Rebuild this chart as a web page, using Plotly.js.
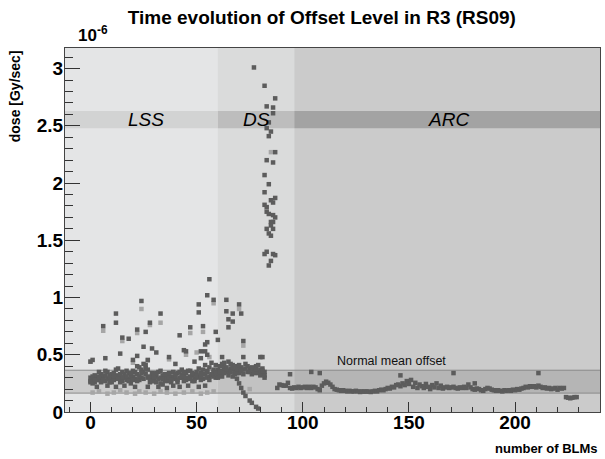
<!DOCTYPE html>
<html>
<head>
<meta charset="utf-8">
<script src="https://cdn.plot.ly/plotly-3.0.1.min.js"></script>
<style>html,body{margin:0;padding:0;background:#fff;}#chart{width:605px;height:459px;}</style>
</head>
<body>
<div id="chart"></div>
<script>
// dose values in units of 1e-6 Gy/sec
const snapshotA = [
0.27,0.29,0.26,0.31,0.28,0.33,0.30,0.27,0.35,0.32,
0.29,0.34,0.31,0.38,0.30,0.27,0.33,0.36,0.29,0.25,
0.31,0.35,0.40,0.28,0.37,0.42,0.33,0.30,0.26,0.34,
0.27,0.31,0.29,0.36,0.24,0.30,0.33,0.27,0.31,0.35,
0.29,0.34,0.30,0.37,0.32,0.28,0.36,0.31,0.27,0.33,
0.30,0.38,0.34,0.29,0.41,0.36,0.31,0.43,0.35,0.30,
0.37,0.33,0.42,0.39,0.35,0.44,0.38,0.41,0.36,0.40,
0.34,0.39,0.37,0.42,0.35,0.38,0.33,0.36,0.40,0.34,
0.37,0.33,0.35];
const snapshotB = [
0.30,0.25,0.32,0.28,0.35,0.27,0.31,0.36,0.29,0.26,
0.33,0.28,0.37,0.32,0.26,0.35,0.30,0.28,0.34,0.31,
0.36,0.29,0.33,0.39,0.30,0.35,0.41,0.37,0.31,0.28,
0.33,0.26,0.35,0.30,0.32,0.27,0.29,0.34,0.26,0.30,
0.33,0.28,0.35,0.30,0.27,0.34,0.29,0.36,0.32,0.29,
0.35,0.31,0.28,0.37,0.33,0.30,0.39,0.32,0.37,0.41,
0.33,0.40,0.36,0.43,0.39,0.36,0.42,0.38,0.34,0.37,
0.41,0.36,0.33,0.38,0.40,0.35,0.39,0.34,0.37,0.41,
0.35,0.38,0.32];
const snapshotC = [
0.26,0.31,0.28,0.22,0.30,0.26,0.28,0.32,0.23,0.30,
0.26,0.31,0.22,0.29,0.33,0.30,0.23,0.31,0.27,0.34,
0.28,0.22,0.27,0.31,0.34,0.29,0.38,0.22,0.30,0.27,
0.30,0.34,0.22,0.25,0.29,0.33,0.21,0.30,0.28,0.23,
0.31,0.26,0.22,0.32,0.35,0.30,0.23,0.29,0.34,0.27,
0.32,0.22,0.31,0.33,0.23,0.35,0.28,0.33,0.31,0.34,
0.30,0.35,0.31,0.34,0.37,0.32,0.35,0.31,0.33,0.29,
0.25,0.21,0.17,0.14,null,0.10,0.08,null,0.045,0.03,
0.32,0.36,0.30];

const outlierBLM = [1,0,7,14,20,22,25,27,29,31,37,40,44,45,49,52,52,54,54,55,
  6,12,12,15,18,22,24,26,28,33,42,47,51,51,53,55,55,56,58,59,
  60,62,64,64,65,65,67,67,70,71,72,72,80,81];
const outlierDose = [0.455,0.44,0.47,0.51,0.455,0.49,0.57,0.455,0.555,0.52,0.48,0.42,0.54,0.53,0.44,0.53,0.47,0.59,0.53,0.50,
  0.75,0.86,0.78,0.65,0.64,0.72,0.97,0.70,0.78,0.86,0.67,0.74,0.87,0.94,0.75,1.02,0.61,1.16,0.98,0.70,
  0.63,0.48,0.98,0.88,0.81,0.74,0.86,0.79,0.94,0.86,0.62,0.48,0.48,0.48];

const lightBLM = [1,4,8,11,14,17,21,23,26,30,33,36,40,44,48,52,55,58,
  6,15,22,24,28,33,47,53,58,70,72,
  0,2,20,27,37,45,50,56,63,66,69,75,85];
const lightDose = [0.17,0.18,0.16,0.17,0.19,0.17,0.16,0.18,0.17,0.16,0.18,0.17,0.16,0.17,0.18,0.16,0.17,0.18,
  0.71,0.62,0.69,0.90,0.76,0.78,0.69,0.70,0.95,0.90,0.58,
  0.44,0.30,0.43,0.45,0.46,0.50,0.52,0.48,0.38,0.34,0.33,0.20,2.27];

const spikeBLM = [77,82,87,86,83,86,84,83,85,84,87,83,86,82,84,82,87,85,86,82,83,83,84,86,87,85,86,85,86,83,84,85,83,82,86,87,85,84];
const spikeDose = [3.01,2.85,2.74,2.66,2.67,2.61,2.53,2.48,2.45,2.41,2.27,2.20,2.18,2.07,1.99,1.92,1.87,1.85,1.83,1.81,1.79,1.75,1.73,1.72,1.70,1.66,1.66,1.63,1.60,1.60,1.56,1.54,1.40,1.38,1.38,1.37,1.32,1.28];

const arcFirstBLM = 88;
const arcDose = [
0.21,0.24,0.235,0.23,0.23,0.255,0.21,0.205,0.215,0.21,
0.22,0.21,0.215,0.22,0.21,0.22,0.21,0.22,0.215,0.20,
0.19,0.23,0.25,0.265,0.255,0.24,0.22,0.20,0.195,0.19,
0.185,0.19,0.185,0.18,0.185,0.18,0.18,0.185,0.18,0.175,
0.18,0.178,0.18,0.178,0.175,0.18,0.185,0.18,0.19,0.195,
0.19,0.20,0.21,0.205,0.22,0.215,0.235,0.24,0.225,0.25,
0.235,0.27,0.245,0.28,0.22,0.255,0.21,0.24,0.225,0.21,
0.245,0.22,0.20,0.235,0.215,0.25,0.21,0.23,0.205,0.215,
0.22,0.21,0.215,0.22,0.21,0.205,0.215,0.21,0.22,0.21,
0.24,0.215,0.20,0.195,0.205,0.20,0.19,0.185,0.20,0.21,
0.205,0.195,0.19,0.185,0.19,0.185,0.18,0.19,0.185,0.19,
0.185,0.195,0.19,0.20,0.195,0.205,0.21,0.22,0.215,0.225,
0.22,0.225,0.215,0.23,0.22,0.21,0.215,0.205,0.21,0.20,
0.205,0.21,0.195,0.21,0.205,0.21,0.13,0.125,0.12,0.125,
0.13,0.13];
const arcOutBLM = [94,104,108,146,171,181,211];
const arcOutDose = [0.33,0.35,0.34,0.32,0.34,0.25,0.34];

const regionNames = ['LSS','DS','ARC'];
const regionEdges = [-12,60,96,240];
const regionLabelX = [26,78,168.5];
const topBand = [2.48,2.63];
const normalBand = [0.165,0.365];

const idx = snapshotA.map((_, i) => i);
const arcBLM = arcDose.map((_, i) => arcFirstBLM + i);

const dark = '#5c5c5c', light = '#a6a6a6';
const mk = (c) => ({symbol:'square', size:4.5, color:c, line:{width:0}});
const traces = [
  {x: lightBLM, y: lightDose, mode:'markers', type:'scatter', marker: mk(light)},
  {x: idx, y: snapshotA, mode:'markers', type:'scatter', marker: mk(dark)},
  {x: idx, y: snapshotB, mode:'markers', type:'scatter', marker: mk(dark)},
  {x: idx, y: snapshotC, mode:'markers', type:'scatter', marker: mk(dark)},
  {x: outlierBLM, y: outlierDose, mode:'markers', type:'scatter', marker: mk(dark)},
  {x: spikeBLM, y: spikeDose, mode:'markers', type:'scatter', marker: mk(dark)},
  {x: arcBLM, y: arcDose, mode:'markers', type:'scatter', marker: mk(dark)},
  {x: arcOutBLM, y: arcOutDose, mode:'markers', type:'scatter', marker: mk(dark)}
];

const regionFill = ['#e4e5e6','#dadbdb','#cbcbcb'];
const topFill = ['#d2d3d3','#bdbdbd','#a3a3a3'];
const normFill = ['#cbcbcb','#c2c2c2','#b5b5b5'];
const shapes = [];
for (let i = 0; i < 3; i++) {
  shapes.push({type:'rect', layer:'below', xref:'x', yref:'y', x0:regionEdges[i], x1:regionEdges[i+1], y0:0, y1:3.18, fillcolor:regionFill[i], line:{width:0}});
  shapes.push({type:'rect', layer:'below', xref:'x', yref:'y', x0:regionEdges[i], x1:regionEdges[i+1], y0:topBand[0], y1:topBand[1], fillcolor:topFill[i], line:{width:0}});
  shapes.push({type:'rect', layer:'below', xref:'x', yref:'y', x0:regionEdges[i], x1:regionEdges[i+1], y0:normalBand[0], y1:normalBand[1], fillcolor:normFill[i], line:{width:0}});
}
shapes.push({type:'line', layer:'below', xref:'x', yref:'y', x0:-12, x1:240, y0:normalBand[0], y1:normalBand[0], line:{color:'#8a8a8a', width:1}});
shapes.push({type:'line', layer:'below', xref:'x', yref:'y', x0:-12, x1:240, y0:normalBand[1], y1:normalBand[1], line:{color:'#8a8a8a', width:1}});

const F = 'Liberation Sans, Arial, Helvetica, sans-serif';
const annotations = regionNames.map((n, i) => ({
  x: regionLabelX[i], y: (topBand[0]+topBand[1])/2, xref:'x', yref:'y', text:n, showarrow:false,
  font:{family:F, size:19, style:'italic', color:'#000'}
}));
annotations.push({x:142, y:0.445, xref:'x', yref:'y', text:'Normal mean offset', showarrow:false, font:{family:F, size:12.5, color:'#111'}});
annotations.push({x:0.021, y:1.003, xref:'paper', yref:'paper', xanchor:'left', yanchor:'bottom', text:'10<sup>-6</sup>', showarrow:false, font:{family:F, size:17, weight:'bold', color:'#000'}});
annotations.push({x:1, y:-0.075, xref:'paper', yref:'paper', xanchor:'right', yanchor:'top', text:'number of BLMs', showarrow:false, font:{family:F, size:13, weight:'bold', color:'#000'}});
annotations.push({x:-0.093, y:1, xref:'paper', yref:'paper', xanchor:'center', yanchor:'top', text:'dose [Gy/sec]', textangle:-90, showarrow:false, font:{family:F, size:14, weight:'bold', color:'#000'}});

const layout = {
  width:605, height:459, autosize:false,
  margin:{l:65, r:5, t:48, b:47, pad:0},
  paper_bgcolor:'#ffffff', plot_bgcolor:'#e4e5e6',
  showlegend:false,
  title:{text:'Time evolution of Offset Level in R3 (RS09)', x:0.532, xanchor:'center', y:0.963, yanchor:'middle', font:{family:F, size:19, weight:'bold', color:'#000'}},
  xaxis:{range:[-12,240], tick0:0, dtick:50, ticks:'inside', ticklen:10, tickcolor:'#333', tickwidth:1,
    minor:{dtick:10, ticks:'inside', ticklen:5, tickcolor:'#333', showgrid:false},
    ticklabelstandoff:-7,
    showgrid:false, zeroline:false, showline:true, mirror:true, linecolor:'#444', linewidth:1,
    tickfont:{family:F, size:19, weight:'bold', color:'#000'}},
  yaxis:{range:[0,3.18], tick0:0, dtick:0.5, ticks:'inside', ticklen:15, tickcolor:'#333', tickwidth:1,
    minor:{dtick:0.1, ticks:'inside', ticklen:8, tickcolor:'#333', showgrid:false},
    ticklabelstandoff:-3,
    showgrid:false, zeroline:false, showline:true, mirror:true, linecolor:'#444', linewidth:1,
    tickfont:{family:F, size:19, weight:'bold', color:'#000'}},
  shapes: shapes,
  annotations: annotations
};
Plotly.newPlot('chart', traces, layout, {staticPlot:true, displayModeBar:false});
</script>
</body>
</html>
